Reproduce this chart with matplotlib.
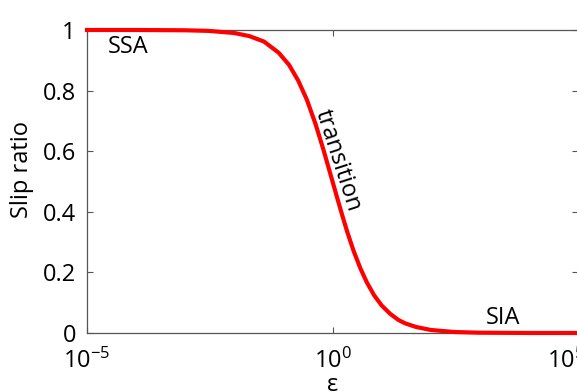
import numpy as np
import matplotlib.pyplot as plt
from matplotlib.ticker import FixedLocator, FuncFormatter
from matplotlib.transforms import ScaledTranslation

plt.rcParams['font.family'] = ['Open Sans', 'DejaVu Sans']
plt.rcParams['mathtext.fontset'] = 'custom'
plt.rcParams['mathtext.rm'] = 'Open Sans'
plt.rcParams['mathtext.it'] = 'Open Sans:italic'

# values
eps = [1e-5, 1e-4, 1e-3, 3e-3, 1e-2, 2e-2, 4e-2, 8e-2, 0.13, 0.2, 0.3,
       0.45, 0.65, 0.85, 1.0, 1.25, 1.6, 2.0, 2.7, 3.7, 5.0, 7.0, 10.0,
       15.0, 22.0, 30.0, 50.0, 100.0, 300.0, 1e3, 1e4, 1e5]
slip = [1.0, 1.0, 0.999, 0.997, 0.99, 0.98, 0.962, 0.925, 0.885, 0.833, 0.77,
        0.69, 0.606, 0.54, 0.5, 0.445, 0.385, 0.333, 0.27, 0.213, 0.167, 0.125, 0.091,
        0.063, 0.043, 0.032, 0.02, 0.01, 0.0033, 0.001, 0.0001, 0.0]

fig = plt.figure(figsize=(5.77, 3.92), dpi=100)
ax = fig.add_axes([0.1508, 0.1505, 0.851, 0.773])

ax.plot(eps, slip, color='#ff0000', lw=3.0, clip_on=False, zorder=5)

ax.set_xscale('log')
ax.set_xlim(1e-5, 1e5)
ax.set_ylim(0, 1)
ax.xaxis.set_major_locator(FixedLocator([1e-5, 1e0, 1e5]))
ax.xaxis.set_minor_locator(FixedLocator([]))
ax.xaxis.set_major_formatter(FuncFormatter(
    lambda v, p: r'$\mathregular{10^{%d}}$' % int(round(np.log10(v)))))
ax.set_yticks([0, 0.2, 0.4, 0.6, 0.8, 1])
ax.set_yticklabels(['0', '0.2', '0.4', '0.6', '0.8', '1'])

for s in ax.spines.values():
    s.set_color('#555555')
    s.set_linewidth(0.9)
ax.tick_params(direction='in', length=4, width=0.8, color='#555555',
               labelsize=17, top=True, right=True)
ax.tick_params(axis='x', pad=11)
ax.tick_params(axis='y', pad=8)

# last x label sits a bit to the left, as in the reference
fig.canvas.draw()
last = ax.get_xticklabels()[-1]
last.set_transform(last.get_transform() + ScaledTranslation(-0.12, 0, fig.dpi_scale_trans))

ax.set_xlabel('ε', fontsize=17, labelpad=0)
ax.set_ylabel('Slip ratio', fontsize=17)
ax.yaxis.set_label_coords(-0.108, 0.538)

ax.text(2.66e-5, 0.944, 'SSA', fontsize=17, va='center')
ax.text(1.3e3, 0.05, 'SIA', fontsize=17, va='center')
ax.text(1.25, 0.57, 'transition', fontsize=17, rotation=-72,
        ha='center', va='center', rotation_mode='anchor')

fig.savefig('out.png', dpi=100)
